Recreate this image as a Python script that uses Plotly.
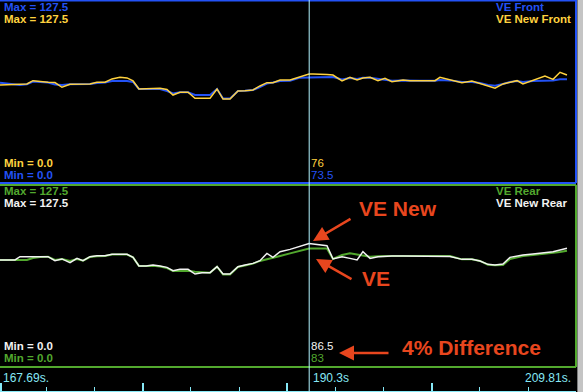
import plotly.graph_objects as go

# ---------------- data ----------------
time_s = [167.69, 168.79, 169.15, 169.66, 170.10, 170.62, 171.20, 171.71, 172.22, 172.81,
          173.32, 173.76, 174.27, 174.78, 175.37, 175.88, 176.46, 176.98, 177.42, 177.85,
          178.37, 178.88, 179.39, 179.90, 180.34, 180.85, 181.44, 181.95, 182.46, 183.05,
          183.56, 184.00, 184.51, 185.09, 185.61, 186.19, 186.70, 187.21, 187.65, 188.17,
          188.90, 189.63, 190.29, 190.58, 191.09, 191.60, 192.04, 192.70, 193.28, 193.80,
          194.23, 194.75, 195.33, 195.84, 196.35, 197.16, 197.67, 198.40, 199.50, 199.86,
          200.60, 201.47, 202.20, 202.79, 203.37, 203.89, 204.47, 204.98, 205.50, 205.93,
          206.66, 207.54, 208.13, 208.64, 209.15]

ve_new_front = [68.3, 68.8, 68.8, 69.0, 71.3, 70.7, 70.2, 70.0, 66.7, 68.8,
                68.8, 68.8, 69.0, 70.2, 70.2, 72.5, 73.6, 73.2, 71.1, 65.5,
                65.5, 65.5, 66.0, 65.1, 61.3, 63.2, 63.2, 59.0, 59.0, 59.0,
                65.5, 58.5, 58.5, 64.1, 64.3, 64.8, 67.6, 69.9, 69.9, 71.8,
                71.8, 74.1, 76.0, 76.0, 76.0, 75.6, 75.2, 71.1, 73.6, 71.8,
                73.2, 73.6, 71.3, 72.9, 70.6, 71.8, 71.3, 71.3, 71.3, 73.6,
                71.8, 69.9, 71.1, 69.5, 67.6, 66.0, 69.0, 70.4, 71.3, 69.0,
                71.3, 74.5, 72.2, 77.1, 75.2]

ve_front = [69.9, 68.8, 68.3, 68.8, 70.7, 70.4, 70.0, 68.6, 68.3, 68.8,
            68.8, 68.8, 69.0, 69.7, 70.0, 71.1, 71.1, 71.1, 70.4, 65.5,
            65.5, 65.5, 65.5, 64.1, 62.4, 63.2, 63.2, 61.3, 61.3, 61.3,
            65.5, 58.9, 58.9, 64.1, 64.3, 64.8, 66.9, 69.3, 70.0, 71.1,
            71.3, 73.4, 73.5, 73.5, 74.0, 74.0, 73.9, 72.1, 73.2, 72.5,
            73.4, 73.4, 72.8, 72.2, 71.3, 71.5, 71.3, 71.3, 71.3, 71.8,
            71.5, 70.4, 70.4, 69.7, 68.3, 67.8, 69.0, 70.4, 71.1, 70.4,
            71.1, 71.3, 71.5, 72.2, 72.2]

ve_new_rear = [75.0, 75.0, 77.3, 77.3, 77.3, 77.3, 77.3, 74.5, 75.7, 73.1,
               76.1, 74.5, 77.3, 78.0, 78.0, 78.9, 78.9, 78.9, 76.8, 70.8,
               70.8, 71.5, 70.8, 69.8, 67.5, 68.4, 68.4, 65.1, 66.1, 66.1,
               70.3, 65.1, 65.1, 70.3, 71.5, 72.6, 74.5, 79.6, 76.8, 80.8,
               82.4, 84.3, 86.5, 86.2, 85.5, 85.0, 75.7, 77.3, 76.1, 75.0,
               80.8, 76.1, 77.3, 77.8, 77.8, 77.8, 77.8, 77.8, 77.8, 77.8,
               77.4, 75.4, 75.4, 74.3, 71.9, 71.5, 72.2, 76.8, 77.8, 78.5,
               79.2, 80.3, 80.8, 82.0, 83.2]

ve_rear = [75.0, 74.7, 75.0, 75.0, 76.4, 77.0, 77.3, 75.0, 75.7, 74.3,
           75.7, 74.5, 77.0, 77.5, 77.8, 78.8, 78.8, 78.8, 76.8, 70.8,
           70.8, 71.0, 70.4, 69.3, 67.2, 67.5, 67.5, 66.8, 66.5, 66.1,
           70.3, 64.8, 64.8, 70.1, 71.1, 72.4, 74.3, 75.7, 76.7, 77.8,
           79.6, 81.5, 83.0, 83.0, 83.0, 83.0, 75.7, 78.5, 79.6, 78.8,
           78.5, 77.3, 77.5, 77.8, 77.8, 77.8, 77.8, 77.8, 77.8, 77.8,
           77.8, 75.4, 75.4, 74.3, 71.7, 71.2, 71.5, 75.7, 76.7, 77.8,
           78.5, 79.2, 79.9, 80.6, 81.5]

t_start, t_end, t_cursor = 167.69, 209.81, 190.3
v_min, v_max = 0.0, 127.5
time_labels = ["167.69s.", "190.3s", "209.81s."]

# ---------------- style ----------------
W, H = 583, 392
BLUE = "#2352F5"
YELLOW = "#FFD23F"
GREEN = "#52A82E"
WHITE = "#F2F2F2"
CYAN = "#86E8F6"
CURSOR = "#B2F4FF"
RED = "#E8461E"
XR = 576 / W


def px(x):
    return x / W


def py(y):
    return 1 - y / H


fig = go.Figure()
fig.add_trace(go.Scatter(x=time_s, y=ve_front, mode="lines", line=dict(color=BLUE, width=2),
                         xaxis="x", yaxis="y", name="VE Front"))
fig.add_trace(go.Scatter(x=time_s, y=ve_new_front, mode="lines", line=dict(color=YELLOW, width=1.5),
                         xaxis="x", yaxis="y", name="VE New Front"))
fig.add_trace(go.Scatter(x=time_s, y=ve_rear, mode="lines", line=dict(color=GREEN, width=2),
                         xaxis="x2", yaxis="y2", name="VE Rear"))
fig.add_trace(go.Scatter(x=time_s, y=ve_new_rear, mode="lines", line=dict(color=WHITE, width=1.5),
                         xaxis="x2", yaxis="y2", name="VE New Rear"))
# invisible trace for the time strip axis
fig.add_trace(go.Scatter(x=[t_start, t_end], y=[0, 0], mode="lines", line=dict(width=0),
                         xaxis="x3", yaxis="y3", hoverinfo="skip", showlegend=False))

hidden = dict(showgrid=False, zeroline=False, showticklabels=False, ticks="", showline=False)
fig.update_layout(
    width=W, height=H, margin=dict(l=0, r=0, t=0, b=0),
    paper_bgcolor="black", plot_bgcolor="black", showlegend=False,
    xaxis=dict(domain=[0, XR], range=[t_start, t_end], anchor="y", **hidden),
    yaxis=dict(domain=[py(183), 1], range=[v_min, v_max], anchor="x", **hidden),
    xaxis2=dict(domain=[0, XR], range=[t_start, t_end], anchor="y2", matches="x", **hidden),
    yaxis2=dict(domain=[py(367), py(185)], range=[v_min, v_max], anchor="x2", **hidden),
    xaxis3=dict(domain=[0, XR], range=[t_start, t_end], anchor="y3", showgrid=False, zeroline=False,
                showticklabels=False, ticks="inside", ticklen=8, tickwidth=2, tickcolor=CYAN,
                tick0=178.125, dtick=10.567, showline=True, linecolor=CYAN, linewidth=1,
                minor=dict(ticks="inside", ticklen=4, tickwidth=1, tickcolor=CYAN,
                           tick0=178.125, dtick=3.5223)),
    yaxis3=dict(domain=[py(391), py(368)], range=[0, 1], anchor="x3", **hidden),
)

shapes = []
# top panel border (blue)
shapes.append(dict(type="line", xref="paper", yref="paper", x0=0, x1=XR, y0=py(0.5), y1=py(0.5),
                   line=dict(color=BLUE, width=2)))
shapes.append(dict(type="line", xref="paper", yref="paper", x0=XR, x1=XR, y0=py(183), y1=1,
                   line=dict(color=BLUE, width=2)))
shapes.append(dict(type="line", xref="paper", yref="paper", x0=0, x1=XR, y0=py(183), y1=py(183),
                   line=dict(color=BLUE, width=2)))
# bottom panel border (green)
shapes.append(dict(type="line", xref="paper", yref="paper", x0=0, x1=XR, y0=py(185), y1=py(185),
                   line=dict(color=GREEN, width=2)))
shapes.append(dict(type="line", xref="paper", yref="paper", x0=XR, x1=XR, y0=py(367), y1=py(185),
                   line=dict(color=GREEN, width=2)))
shapes.append(dict(type="line", xref="paper", yref="paper", x0=0, x1=XR, y0=py(367), y1=py(367),
                   line=dict(color=GREEN, width=2)))
# left edge tall tick of the time strip
shapes.append(dict(type="line", xref="paper", yref="paper", x0=px(1), x1=px(1), y0=py(391), y1=py(383),
                   line=dict(color=CYAN, width=2)))
# cursor
shapes.append(dict(type="line", xref="x", yref="paper", x0=t_cursor, x1=t_cursor, y0=0, y1=1,
                   line=dict(color=CURSOR, width=1)))
# window chrome on the right
shapes.append(dict(type="rect", xref="paper", yref="paper", x0=px(577), x1=1, y0=0, y1=1,
                   line=dict(width=0), fillcolor="#C4C4C4"))
shapes.append(dict(type="line", xref="paper", yref="paper", x0=px(577.5), x1=px(577.5), y0=0, y1=1,
                   line=dict(color="#7A7A7A", width=1)))
fig.update_layout(shapes=shapes)

FONT = "Liberation Sans, Arial, sans-serif"
ann = []


def label(x, y, text, color, bold=True, size=12, anchor="left"):
    ann.append(dict(xref="paper", yref="paper", x=px(x), y=py(y), text=(f"<b>{text}</b>" if bold else text),
                    showarrow=False, xanchor=anchor, yanchor="middle",
                    font=dict(family=FONT, size=size, color=color)))


label(2, 7, f"Max = {v_max}", BLUE, size=11.5)
label(2, 19, f"Max = {v_max}", YELLOW, size=11.5)
label(2, 163, f"Min = {v_min}", YELLOW, size=11.5)
label(2, 175, f"Min = {v_min}", BLUE, size=11.5)
label(494, 7, "VE Front", BLUE, size=11.5)
label(494, 19, "VE New Front", YELLOW, size=11.5)
label(309, 163, "76", YELLOW, bold=False, size=11.5)
label(309, 175, "73.5", BLUE, bold=False, size=11.5)

label(2, 191, f"Max = {v_max}", GREEN, size=11.5)
label(2, 203, f"Max = {v_max}", WHITE, size=11.5)
label(2, 346, f"Min = {v_min}", WHITE, size=11.5)
label(2, 358, f"Min = {v_min}", GREEN, size=11.5)
label(494, 191, "VE Rear", GREEN, size=11.5)
label(494, 203, "VE New Rear", WHITE, size=11.5)
label(309, 346, "86.5", WHITE, bold=False, size=11.5)
label(309, 358, "83", GREEN, bold=False, size=11.5)

label(1, 378, time_labels[0], CYAN, bold=False, size=12)
label(311, 378, time_labels[1], CYAN, bold=False, size=12)
label(573, 378, time_labels[2], CYAN, bold=False, size=12, anchor="right")

BIG = "Liberation Sans Narrow, Arial Narrow, Liberation Sans, sans-serif"
for x, y, t in [(398, 208, "VE New"), (376, 278, "VE"), (471, 347, "4% Difference")]:
    ann.append(dict(xref="paper", yref="paper", x=px(x), y=py(y), text=f"<b>{t}</b>", showarrow=False,
                    xanchor="center", yanchor="middle", font=dict(family=BIG, size=21, color=RED)))

for (hx, hy, tx, ty) in [(313, 241, 352, 218), (316, 259, 353, 280), (339, 353, 390, 353)]:
    ann.append(dict(xref="paper", yref="paper", x=px(hx), y=py(hy), ax=tx - hx, ay=ty - hy,
                    axref="pixel", ayref="pixel", text="", showarrow=True, arrowhead=2,
                    arrowsize=1.2, arrowwidth=2.5, arrowcolor=RED))

fig.update_layout(annotations=ann)
fig.write_html("out.html", config={"displayModeBar": False},
               post_script="document.body.style.margin='0';document.body.style.overflow='hidden';")
